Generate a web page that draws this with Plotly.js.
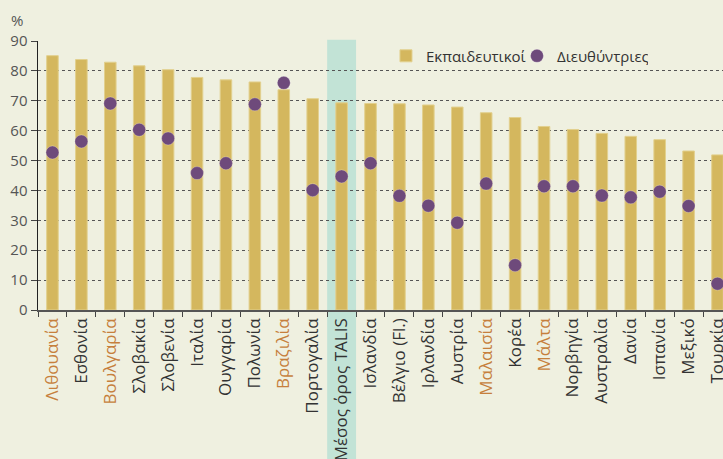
<!DOCTYPE html>
<html><head><meta charset="utf-8">
<script src="https://cdn.plot.ly/plotly-3.0.1.min.js"></script>
<style>html,body{margin:0;padding:0;background:#eff0e0;overflow:hidden}</style>
</head><body>
<div id="chart" style="width:723px;height:459px"></div>
<script>
const categories = ["Λιθουανία","Εσθονία","Βουλγαρία","Σλοβακία","Σλοβενία","Ιταλία","Ουγγαρία","Πολωνία","Βραζιλία","Πορτογαλία","Μέσος όρος TALIS","Ισλανδία","Βέλγιο (Fl.)","Ιρλανδία","Αυστρία","Μαλαισία","Κορέα","Μάλτα","Νορβηγία","Αυστραλία","Δανία","Ισπανία","Μεξικό","Τουρκία"];
const teachers = [85.1,83.8,82.9,81.7,80.4,77.8,77.0,76.3,73.7,70.7,69.3,69.1,69.0,68.6,67.9,66.0,64.4,61.4,60.4,59.1,58.1,57.0,53.2,51.9];
const principals = [52.7,56.4,69.1,60.3,57.4,45.8,49.1,68.8,76.0,40.1,44.7,49.1,38.2,34.9,29.2,42.3,15.0,41.4,41.4,38.3,37.7,39.6,34.8,8.8];
const highlighted = ["Λιθουανία","Βουλγαρία","Βραζιλία","Μαλαισία","Μάλτα"];
const averageLabel = "Μέσος όρος TALIS";
const seriesNames = ["Εκπαιδευτικοί","Διευθύντριες"];
const yTicks = [0,10,20,30,40,50,60,70,80,90];

const ticktext = categories.map(c => highlighted.includes(c) ? '<span style="color:#c67f3c">'+c+'</span>' : c);
const avgIdx = categories.indexOf(averageLabel);

const font = "Open Sans, Noto Sans, DejaVu Sans, sans-serif";
const traces = [
  {type:'bar', x:categories, y:teachers, name:seriesNames[0], width:0.4,
   marker:{color:'#d4b75e', line:{color:'#e2d08e', width:1}}, hoverinfo:'skip'},
  {type:'scatter', mode:'markers', x:categories, y:principals, name:seriesNames[1],
   marker:{color:'#6e4a7b', size:13, line:{color:'rgba(255,255,255,0.25)', width:1}}, hoverinfo:'skip'}
];
const layout = {
  width:723, height:459,
  paper_bgcolor:'#eff0e0', plot_bgcolor:'#eff0e0',
  margin:{l:38, r:0, t:41, b:149},
  font:{family:font, color:'#333', size:14},
  showlegend:true,
  legend:{orientation:'h', x:0.508, y:0.944, xanchor:'left', yanchor:'middle',
          bgcolor:'rgba(0,0,0,0)', font:{size:15, color:'#333'}, itemwidth:30, traceorder:'normal',
          entrywidth:86, entrywidthmode:'pixels'},
  xaxis:{type:'category', tickmode:'array', tickvals:categories, ticktext:ticktext,
         tickangle:-90, range:[-0.5, 23.19], tickson:'boundaries', ticks:'outside', ticklen:5,
         tickcolor:'#444', showline:true, linecolor:'#555', linewidth:1.5, showgrid:false,
         tickfont:{size:17, color:'#333'}, fixedrange:true},
  yaxis:{range:[0,90], tickvals:yTicks, ticks:'outside', ticklen:6, tickcolor:'#444',
         showline:true, linecolor:'#222', linewidth:1.5, showgrid:true, gridcolor:'#555',
         griddash:'3px,3px', gridwidth:1, zeroline:false,
         tickfont:{size:15, color:'#555'}, fixedrange:true},
  shapes:[{type:'rect', xref:'x', yref:'paper', x0:avgIdx-0.5, x1:avgIdx+0.5, y0:-0.56, y1:1.005,
           fillcolor:'#c2e3d6', line:{width:0}, layer:'below'}],
  annotations:[{text:'%', xref:'paper', yref:'paper', x:-0.03, y:1.078, xanchor:'center', yanchor:'middle',
                showarrow:false, font:{size:15, color:'#555'}}]
};
Plotly.newPlot('chart', traces, layout, {displayModeBar:false, staticPlot:true});
</script>
</body></html>
